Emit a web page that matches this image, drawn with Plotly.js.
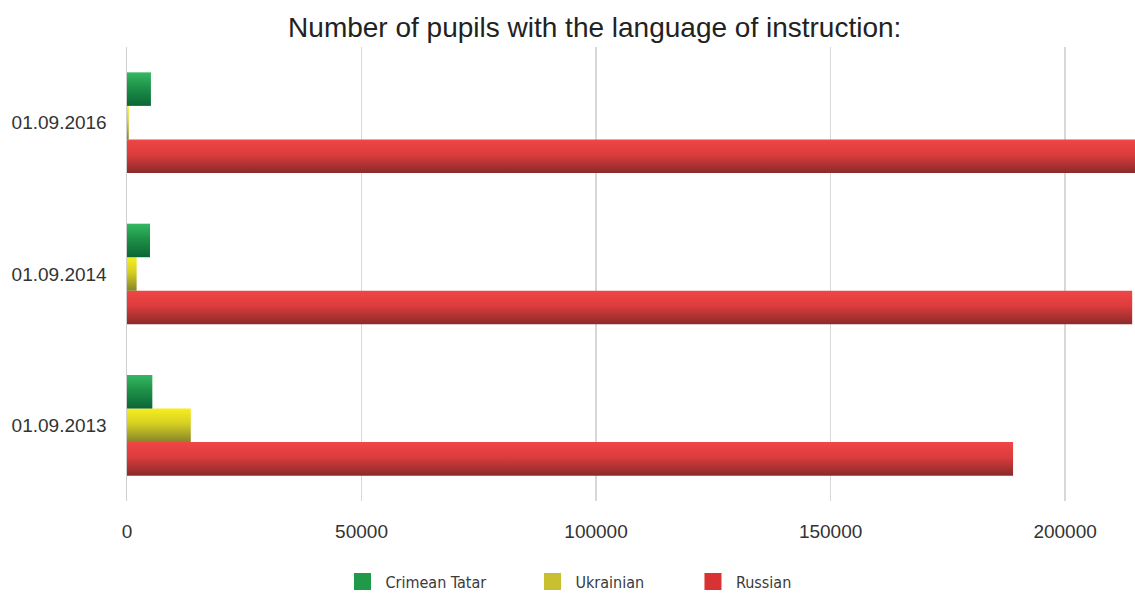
<!DOCTYPE html>
<html>
<head>
<meta charset="utf-8">
<script src="https://cdn.plot.ly/plotly-3.0.1.min.js"></script>
<style>
  html, body { margin: 0; padding: 0; background: #fff; }
  #chart { width: 1135px; height: 597px; }
</style>
</head>
<body>
<div id="chart"></div>
<script>
// School years (bottom to top on the axis)
const dates = ['01.09.2013', '01.09.2014', '01.09.2016'];

// Pupils by language of instruction
const crimeanTatar = [5400, 4900, 5100];
const ukrainian = [13600, 2050, 370];
const russian = [188900, 214300, 216500];

const seriesNames = ['Crimean Tatar', 'Ukrainian', 'Russian'];
const legendColors = ['#1f9a48', '#c8c030', '#d83232'];
const legendIds = ['legend', 'legend2', 'legend3'];
const legendX = [0.2108, 0.3993, 0.5585];

// Vertical shading for each series: [top, middle, bottom]
const shades = [
  ['#35b862', '#1e9148', '#0b6636'],
  ['#f6ee1e', '#d6cf22', '#86852a'],
  ['#f04646', '#dc3c3c', '#8a2a2a']
];

const xTicks = [0, 50000, 100000, 150000, 200000];

// Traces are added in reverse so that Crimean Tatar sits on top of each group
const values = [crimeanTatar, ukrainian, russian];
const traces = [2, 1, 0].map(i => ({
  type: 'bar',
  orientation: 'h',
  name: seriesNames[i],
  legend: legendIds[i],
  y: dates,
  x: values[i],
  marker: { color: legendColors[i], line: { width: 0 } },
  hoverinfo: 'x+name'
}));

const legendFont = { family: 'Liberation Sans Narrow, DejaVu Sans Condensed, sans-serif', size: 16, color: '#3a3a3a' };

const layout = {
  width: 1135,
  height: 597,
  paper_bgcolor: '#ffffff',
  plot_bgcolor: '#ffffff',
  margin: { l: 127, r: 0, t: 47, b: 96, autoexpand: false },
  barmode: 'group',
  bargap: 0.335,
  bargroupgap: 0,
  font: { family: 'Liberation Sans, Arial, sans-serif', color: '#333' },
  title: {
    text: 'Number of pupils with the language of instruction:',
    font: { family: 'Liberation Sans, Arial, sans-serif', size: 28, color: '#222' },
    x: 0.524, xanchor: 'center', xref: 'container',
    y: 0.955, yanchor: 'middle', yref: 'container'
  },
  xaxis: {
    range: [0, 214900],
    tickvals: xTicks,
    ticktext: xTicks.map(String),
    showgrid: true,
    gridcolor: '#d8d8d8',
    gridwidth: 1.5,
    zeroline: false,
    showline: false,
    ticks: '',
    ticklabelstandoff: 17,
    tickfont: { size: 19, color: '#333' },
    automargin: false,
    fixedrange: true
  },
  yaxis: {
    type: 'category',
    categoryarray: dates,
    showgrid: false,
    zeroline: false,
    showline: true,
    linecolor: '#cfcfcf',
    linewidth: 1.5,
    ticks: '',
    ticklabelstandoff: 15,
    tickfont: { size: 19, color: '#333' },
    automargin: false,
    fixedrange: true
  },
  showlegend: true
};

// One single-entry legend per series, placed side by side under the axis
legendIds.forEach((id, i) => {
  layout[id] = {
    orientation: 'h',
    x: legendX[i], xanchor: 'left',
    y: -0.14, yanchor: 'top',
    font: legendFont,
    itemwidth: 36,
    bgcolor: 'rgba(0,0,0,0)'
  };
});

// Bars get a top-to-bottom shading through SVG gradients; legend squares are enlarged
function shadeBars(gd) {
  const svg = gd.querySelector('svg.main-svg');
  const ns = 'http://www.w3.org/2000/svg';
  let defs = svg.querySelector('defs');
  if (!defs) { defs = document.createElementNS(ns, 'defs'); svg.insertBefore(defs, svg.firstChild); }
  const order = [2, 1, 0];
  const barTraces = gd.querySelectorAll('.barlayer .trace.bars');
  barTraces.forEach((tr, k) => {
    const si = order[k];
    const id = 'barShade' + si;
    if (!defs.querySelector('#' + id)) {
      const g = document.createElementNS(ns, 'linearGradient');
      g.setAttribute('id', id);
      g.setAttribute('x1', '0'); g.setAttribute('y1', '0');
      g.setAttribute('x2', '0'); g.setAttribute('y2', '1');
      [[0, shades[si][0]], [0.45, shades[si][1]], [1, shades[si][2]]].forEach(([o, c]) => {
        const s = document.createElementNS(ns, 'stop');
        s.setAttribute('offset', o);
        s.setAttribute('stop-color', c);
        g.appendChild(s);
      });
      defs.appendChild(g);
    }
    tr.querySelectorAll('.point path').forEach(p => {
      p.style.fill = 'url(#' + id + ')';
    });
  });
  gd.querySelectorAll('.legendpoints path').forEach(p => {
    p.setAttribute('d', 'M8.5,8.5H-8.5V-8.5H8.5Z');
  });
}

const gd = document.getElementById('chart');
Plotly.newPlot(gd, traces, layout, { displayModeBar: false, staticPlot: true }).then(() => shadeBars(gd));
</script>
</body>
</html>
